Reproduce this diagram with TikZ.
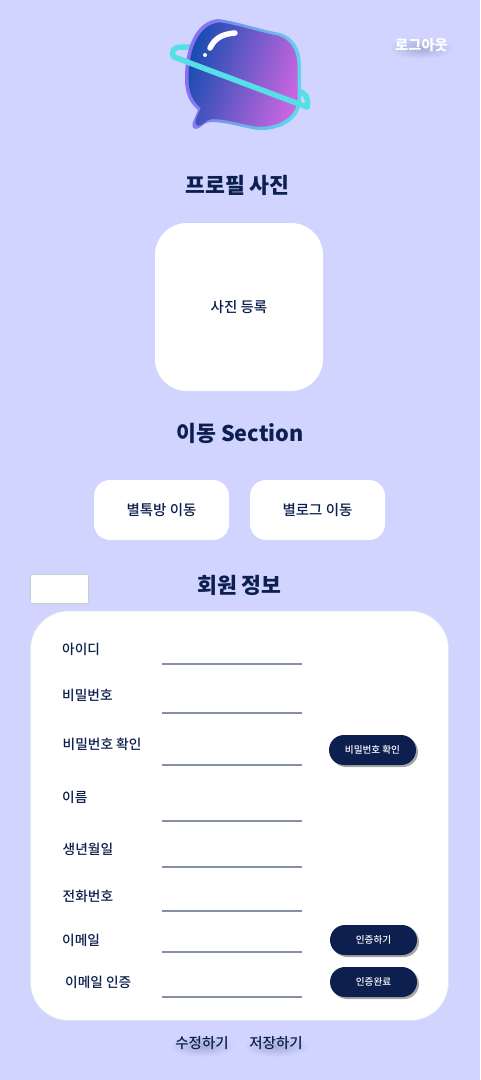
\documentclass[tikz,border=0pt]{standalone}
\usepackage{fontspec}
\setmainfont{Noto Sans CJK KR Medium}[BoldFont={Noto Sans CJK KR Black}]
\usetikzlibrary{shadows}

\definecolor{pagebg}{HTML}{D0D4FF}
\definecolor{navy}{HTML}{0C1F4E}
\definecolor{ringcyan}{HTML}{55E0E8}
\definecolor{lineslate}{HTML}{8590A5}
\definecolor{edgegray}{HTML}{E4E4EC}
\definecolor{blobblue}{HTML}{1A4DB2}
\definecolor{blobpink}{HTML}{C866E0}
\definecolor{rimpurple}{HTML}{8A6CF2}
\definecolor{rimcyan}{HTML}{5CDAEA}

\def\blobpath{(218,19) .. controls (235,21) and (262,30) .. (280,33)
  .. controls (294,37) and (301,50) .. (301,65) -- (301,100)
  .. controls (301,115) and (288,128) .. (265,130)
  .. controls (250,131) and (232,122) .. (210,122)
  .. controls (204,122) and (200,129) .. (196,129)
  .. controls (192,129) and (192,125) .. (193,122) -- (198,110)
  .. controls (190,103) and (185,95) .. (185,78)
  .. controls (185,55) and (192,22) .. (218,19) -- cycle}

\tikzset{
  title/.style={font=\fontsize{21.6}{22}\selectfont\bfseries,text=navy,inner sep=0pt},
  label/.style={font=\fontsize{14.5}{15}\selectfont,text=navy,inner sep=0pt},
  field/.style={label,font=\fontsize{13.7}{14}\selectfont,anchor=west},
  whitebox/.style={fill=white,draw=edgegray,line width=0.6pt,inner sep=0pt},
  smallbtn/.style={fill=navy,text=white,rounded corners=15pt,minimum width=87pt,minimum height=30pt,inner sep=0pt,
    font=\fontsize{9.6}{10}\selectfont,drop shadow={shadow xshift=2pt,shadow yshift=-2pt,fill=gray,opacity=.7}},
  movebtn/.style={fill=white,rounded corners=16pt,minimum width=135pt,minimum height=60pt,inner sep=0pt,
    font=\fontsize{14.5}{15}\selectfont,text=navy},
  ringline/.style={ringcyan,line width=5.5pt,line cap=round},
  texthaze/.style={inner color=pagebg!78!navy,outer color=pagebg}
}

\begin{document}
\begin{tikzpicture}[x=1pt,y=-1pt]
      \useasboundingbox (0,0) rectangle (480,1080);
      \fill[pagebg] (0,0) rectangle (480,1080);

      \draw[ringline] (174,57) .. controls (170,51) and (174,47) .. (182,47) -- (191,47);
      \draw[ringline] (298,91) .. controls (306,93) and (309,98) .. (307,107);

      \shade[left color=rimpurple,right color=rimcyan,shading angle=80] \blobpath;
      \shade[left color=blobblue,right color=blobpink,shading angle=72,scale around={0.94:(243,75)}] \blobpath;

      \draw[white,line width=5.5pt,line cap=round] (210,48) .. controls (214,40) and (220,34) .. (235,33);
      \fill[white] (205,55) circle (2pt);
      \draw[ringline] (174,57) -- (307,107);

      \shade[texthaze] (421,48) ellipse (33 and 11);
      \node[font=\fontsize{14.3}{15}\selectfont\bfseries,text=white,inner sep=0pt] (logout) at (421.5,45) {로그아웃};

      \node[title] (photoTitle) at (237.5,185) {프로필 사진};
      \draw[fill=white,draw=none,rounded corners=32pt] (155,223) rectangle ++(168,168);
      \node[label] (photoText) at (239,307) {사진 등록};

      \node[title] (moveTitle) at (240,433) {이동 Section};
      \node[movebtn] (starBtn) at (161.5,510) {별톡방 이동};
      \node[movebtn] (blogBtn) at (317.5,510) {별로그 이동};

      \node[title] (infoTitle) at (239.5,585) {회원 정보};
      \draw[whitebox,draw=black!20,rounded corners=2pt] (30.5,574.5) rectangle (88.5,603.5);
      \draw[whitebox,rounded corners=38pt] (30.5,611) rectangle (448.5,1020.5);

      \node[field] (idText) at (62,649) {아이디};
      \node[field] (pwText) at (62,695) {비밀번호};
      \node[field] (pwcText) at (62.5,744) {비밀번호 확인};
      \node[field] (nameText) at (62,797) {이름};
      \node[field] (birthText) at (62.5,849) {생년월일};
      \node[field] (phoneText) at (62.5,896) {전화번호};
      \node[field] (mailText) at (62,940) {이메일};
      \node[field] (mailcText) at (65,982) {이메일 인증};

      \foreach \y in {664,713,765,821,867,911,952,997}
        \draw[lineslate,line width=1.8pt] (162,\y) -- ++(140,0);

      \node[smallbtn] (pwcBtn) at (372.5,750) {비밀번호 확인};
      \node[smallbtn] (mailBtn) at (373.5,940) {인증하기};
      \node[smallbtn] (mailcBtn) at (373.5,982) {인증완료};

      \shade[texthaze] (202,1046) ellipse (33 and 11);
      \shade[texthaze] (276,1046) ellipse (33 and 11);
      \node[label] (editText) at (202,1043) {수정하기};
      \node[label] (saveText) at (276,1043) {저장하기};
    \end{tikzpicture}
\end{document}
